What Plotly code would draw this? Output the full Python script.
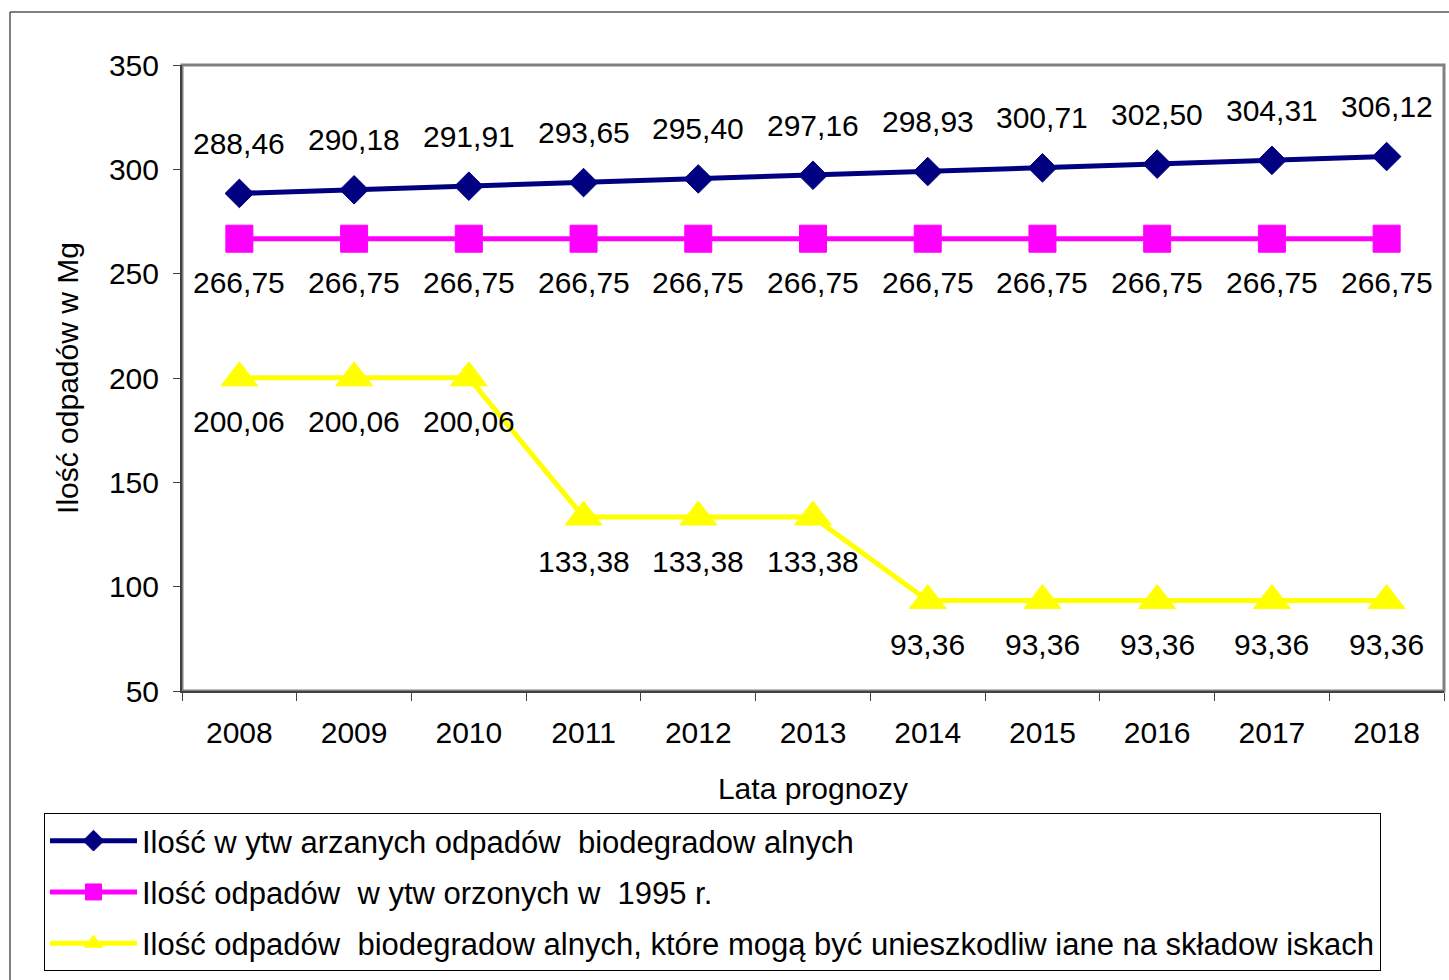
import plotly.graph_objects as go

years = ["2008", "2009", "2010", "2011", "2012", "2013", "2014", "2015", "2016", "2017", "2018"]
wytwarzane = [288.46, 290.18, 291.91, 293.65, 295.40, 297.16, 298.93, 300.71, 302.50, 304.31, 306.12]
z_1995 = [266.75] * 11
skladowiska = [200.06, 200.06, 200.06, 133.38, 133.38, 133.38, 93.36, 93.36, 93.36, 93.36, 93.36]

names = [
    "Ilość w ytw arzanych odpadów  biodegradow alnych",
    "Ilość odpadów  w ytw orzonych w  1995 r.",
    "Ilość odpadów  biodegradow alnych, które mogą być unieszkodliw iane na składow iskach",
]

FONT = "Liberation Sans, Arial, sans-serif"
FS = 30
xs = list(range(len(years)))

def fmt(v):
    return f"{v:.2f}".replace(".", ",")

fig = go.Figure()
series = [
    (wytwarzane, "#000080", "diamond", 22, names[0]),
    (z_1995, "#FF00FF", "square", 27, names[1]),
    (skladowiska, "#FFFF00", "triangle-up", 32, names[2]),
]
for i, (vals, col, sym, sz, nm) in enumerate(series):
    fig.add_trace(go.Scatter(
        x=xs, y=vals, mode="lines+markers", name=nm,
        legendgroup=f"g{i}",
        line=dict(color=col, width=5),
        marker=dict(symbol=sym, size=sz, color=col, line=dict(color=col, width=1)),
    ))

shifts = [50, -44, -44]
for (vals, col, sym, sz, nm), ys in zip(series, shifts):
    for x, v in zip(xs, vals):
        fig.add_annotation(x=x, y=v, text=fmt(v), showarrow=False, yshift=ys,
                           font=dict(family=FONT, size=FS, color="black"))

# body margin removed via post_script, so figure pixels == page pixels
W, H = 1449, 980
PX0, PX1, PY0, PY1 = 182, 1444, 65, 691
L, R, T, B = PX0, W - PX1, PY0, H - PY1
pw, ph = PX1 - PX0, PY1 - PY0

def px_x(p):
    return (p - PX0) / pw

def px_y(p):
    return (PY1 - p) / ph

# outer frame
fig.add_shape(type="rect", xref="paper", yref="paper",
              x0=px_x(10), x1=px_x(1470), y0=px_y(1000), y1=px_y(12),
              line=dict(color="black", width=1), layer="below")
# plot area border
fig.add_shape(type="rect", xref="paper", yref="paper", x0=0, x1=1, y0=0, y1=1,
              line=dict(color="#808080", width=3), layer="below")

fig.update_layout(
    width=W, height=H,
    margin=dict(l=L, r=R, t=T, b=B, autoexpand=False),
    paper_bgcolor="white", plot_bgcolor="white",
    font=dict(family=FONT, size=FS, color="black"),
    showlegend=True,
    legend=dict(
        x=px_x(44), y=px_y(813), xanchor="left", yanchor="top",
        bgcolor="white", bordercolor="black", borderwidth=1,
        font=dict(family=FONT, size=31, color="black"),
        tracegroupgap=8, itemwidth=87,
    ),
)
fig.update_xaxes(
    range=[-0.5, 10.5], tickmode="array", tickvals=xs, ticktext=years,
    ticks="", showgrid=False, zeroline=False,
    showline=True, linecolor="#404040", linewidth=2,
    minor=dict(tickmode="linear", tick0=0.5, dtick=1, ticks="outside", ticklen=8,
               tickcolor="#404040", tickwidth=1, showgrid=False),
    title=dict(text="Lata prognozy", font=dict(family=FONT, size=FS), standoff=30),
    tickfont=dict(family=FONT, size=FS),
    ticklabelstandoff=14,
)
fig.update_yaxes(
    range=[50, 350], tickmode="linear", tick0=50, dtick=50,
    ticks="outside", ticklen=7, tickcolor="#404040", tickwidth=1,
    showgrid=False, zeroline=False,
    showline=True, linecolor="#404040", linewidth=2,
    title=dict(text="Ilość odpadów w Mg", font=dict(family=FONT, size=FS), standoff=21),
    tickfont=dict(family=FONT, size=FS),
    ticklabelstandoff=8,
)

fig.write_html(
    "out.html",
    config={"displayModeBar": False},
    post_script="document.body.style.margin='0px';document.body.style.overflow='hidden';",
)
